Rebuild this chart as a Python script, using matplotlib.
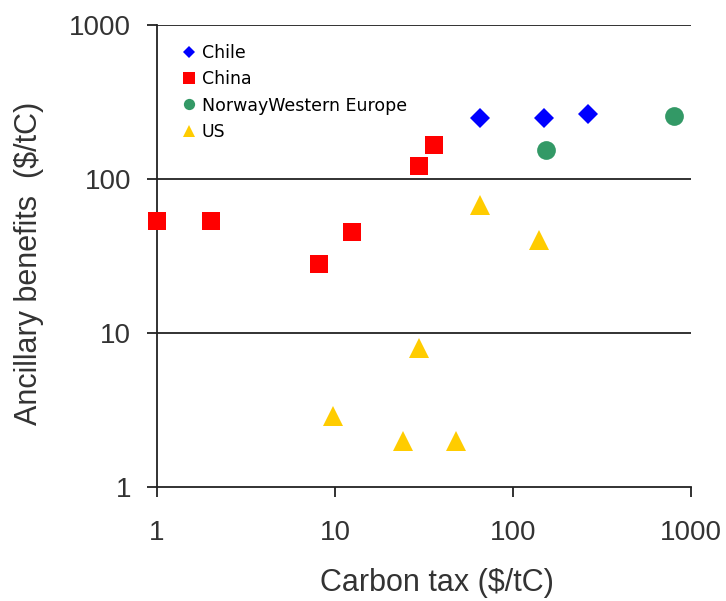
import numpy as np
import matplotlib
matplotlib.use("Agg")
import matplotlib.pyplot as plt
from matplotlib.lines import Line2D

plt.rcParams["font.family"] = ["Liberation Sans", "DejaVu Sans"]

# values (carbon tax, ancillary benefits), both $/tC
chile_x = [65, 150, 265]
chile_y = [250, 250, 265]
china_x = [1, 2, 8.1, 12.4, 29.5, 36]
china_y = [53, 53, 28, 45, 121, 166]
norway_x = [153, 800]
norway_y = [155, 255]
us_x = [65, 140, 29.5, 9.8, 24, 48]
us_y = [68, 40, 8, 2.9, 2, 2]

labels = ["Chile", "China", "NorwayWestern Europe", "US"]
colors = ["#0000ff", "#ff0000", "#339966", "#ffcc00"]
markers = ["D", "s", "o", "^"]
sizes = [10.5, 13.5, 13.5, 15]

fig = plt.figure(figsize=(7.26, 6.01), dpi=100)
ax = fig.add_axes([157 / 726, 1 - 487 / 601, (691 - 157) / 726, (487 - 25) / 601])

series = [(chile_x, chile_y), (china_x, china_y), (norway_x, norway_y), (us_x, us_y)]
for (xs, ys), c, m, s in zip(series, colors, markers, sizes):
    ax.plot(xs, ys, linestyle="none", marker=m, color=c, markersize=s,
            markeredgewidth=0, clip_on=False, zorder=3)

ax.set_xscale("log")
ax.set_yscale("log")
ax.set_xlim(1, 1000)
ax.set_ylim(1, 1000)
ax.set_xticks([1, 10, 100, 1000])
ax.set_xticklabels(["1", "10", "100", "1000"])
ax.set_yticks([1, 10, 100, 1000])
ax.set_yticklabels(["1", "10", "100", "1000"])
ax.minorticks_off()

for yv in [10, 100, 1000]:
    ax.axhline(yv, color="#222222", linewidth=1.3, zorder=1)

for sp in ["top", "right"]:
    ax.spines[sp].set_visible(False)
for sp in ["left", "bottom"]:
    ax.spines[sp].set_color("#222222")
    ax.spines[sp].set_linewidth(1.3)

ax.tick_params(axis="both", direction="out", length=7.5, width=1.3,
               color="#222222", labelsize=20, labelcolor="#333333")
ax.tick_params(axis="x", pad=16)
ax.tick_params(axis="y", pad=11)

ax.set_xlabel("Carbon tax ($/tC)", fontsize=22, color="#333333")
ax.xaxis.set_label_coords(0.524, -0.175)
ax.set_ylabel("Ancillary benefits  ($/tC)", fontsize=22, color="#333333")
ax.yaxis.set_label_coords(-0.212, 0.484)

handles = [Line2D([], [], linestyle="none", marker=m, color=c, markersize=s * 0.6,
                  markeredgewidth=0) for c, m, s in zip(colors, markers, sizes)]
leg = ax.legend(handles, labels, loc="upper left", bbox_to_anchor=(0.02, 0.993),
                frameon=False, handlelength=0.6, handletextpad=0.45,
                labelspacing=0.48, prop={"family": "DejaVu Sans", "size": 12.5})

fig.savefig("out.png", dpi=100)
